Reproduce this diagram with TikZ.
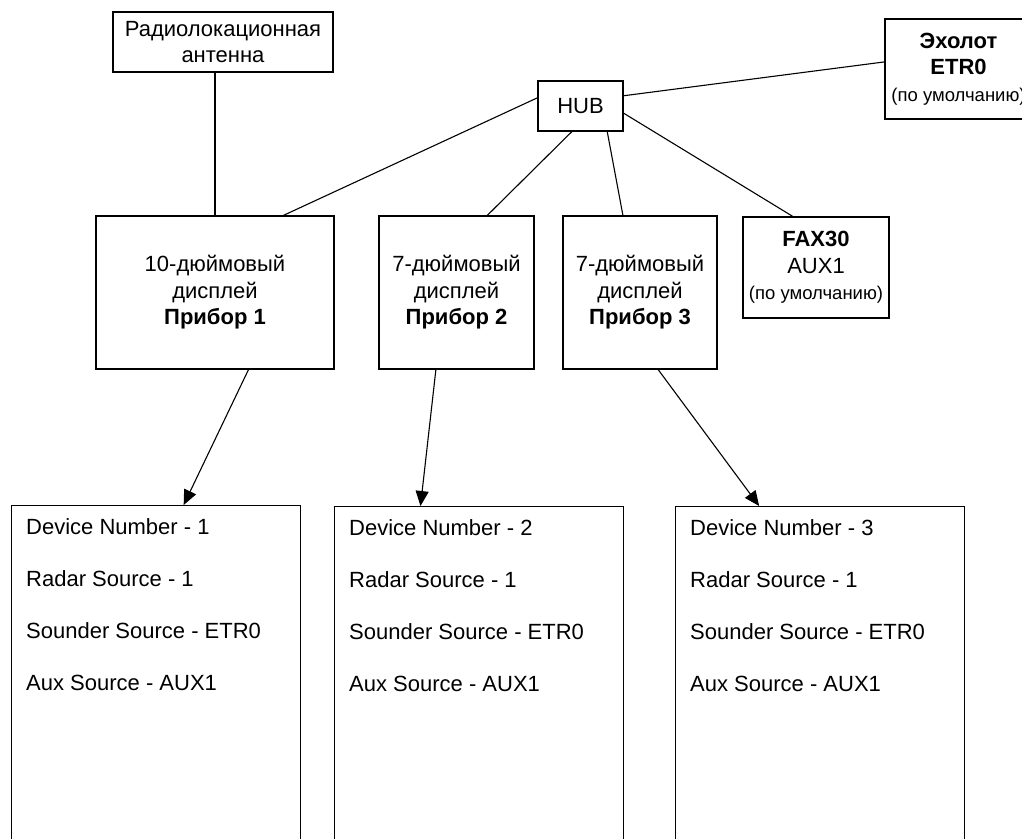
\documentclass[tikz,border=0pt]{standalone}
\usepackage{fontspec}
\setmainfont{Liberation Sans}
\usetikzlibrary{calc,arrows.meta}
\begin{document}
\begin{tikzpicture}[x=1pt,y=-1pt,
  box/.style={draw, line width=1.2pt, inner sep=0pt, align=center,
    font=\fontsize{22}{26.5}\selectfont},
  outbox/.style={draw, line width=1.2pt, inner sep=0pt, anchor=north west,
    minimum width=289pt, minimum height=365pt},
  link/.style={line width=1.1pt},
  arr/.style={line width=1.1pt, -{Triangle[length=15pt,width=13pt]}},
  txt/.style={anchor=base west, inner sep=0pt, font=\fontsize{22}{26}\selectfont}]
\useasboundingbox (0,0) rectangle (1022,838);
\clip (0,0) rectangle (1022,838);

% top row
\node[box, minimum width=220pt, minimum height=60pt] (radar) at (223,42)
  {Радиолокационная\\антенна};
\node[box, minimum width=85pt, minimum height=50pt] (hub) at (580.5,106) {HUB};
\node[box, minimum width=147pt, minimum height=100pt] (echo) at (958.5,69)
  {\textbf{Эхолот}\\\textbf{ETR0}\\{\fontsize{18.5}{26}\selectfont(по умолчанию)}};

% displays
\node[box, minimum width=238pt, minimum height=153pt] (d1) at (215,292.5)
  {10-дюймовый\\дисплей\\\textbf{Прибор 1}};
\node[box, minimum width=155pt, minimum height=153pt] (d2) at (456.5,292.5)
  {7-дюймовый\\дисплей\\\textbf{Прибор 2}};
\node[box, minimum width=154pt, minimum height=153pt] (d3) at (640,292.5)
  {7-дюймовый\\дисплей\\\textbf{Прибор 3}};
\node[box, minimum width=146pt, minimum height=101pt] (fax) at (816,267.5)
  {\textbf{FAX30}\\AUX1\\{\fontsize{18.5}{26}\selectfont(по умолчанию)}};

% settings boxes
\node[outbox] (b1) at (11,505) {};
\node[outbox] (b2) at (334,506) {};
\node[outbox] (b3) at (675,506) {};

\foreach \b/\n in {b1/1,b2/2,b3/3}{
  \node[txt] (\b l1) at ($(\b.north west)+(15,29)$) {Device Number - \n};
  \node[txt] (\b l2) at ($(\b.north west)+(15,81)$) {Radar Source - 1};
  \node[txt] (\b l3) at ($(\b.north west)+(15,133)$) {Sounder Source - ETR0};
  \node[txt] (\b l4) at ($(\b.north west)+(15,185)$) {Aux Source - AUX1};
}

% connections
\draw[link] (radar.south -| d1.north) -- (d1.north);
\draw[link] ($(hub.north west)!0.34!(hub.south west)$) -- ($(d1.north west)!0.786!(d1.north east)$);
\draw[link] ($(hub.south west)!0.4!(hub.south east)$) -- ($(d2.north west)!0.697!(d2.north east)$);
\draw[link] ($(hub.south west)!0.81!(hub.south east)$) -- ($(d3.north west)!0.39!(d3.north east)$);
\draw[link] ($(hub.north east)!0.64!(hub.south east)$) -- ($(fax.north west)!0.342!(fax.north east)$);
\draw[link] ($(hub.north east)!0.3!(hub.south east)$) -- ($(echo.north west)!0.43!(echo.south west)$);

\draw[arr] ($(d1.south west)!0.64!(d1.south east)$) -- ($(b1.north west)!0.595!(b1.north east)$);
\draw[arr] ($(d2.south west)!0.368!(d2.south east)$) -- ($(b2.north west)!0.298!(b2.north east)$);
\draw[arr] ($(d3.south west)!0.617!(d3.south east)$) -- ($(b3.north west)!0.29!(b3.north east)$);
\end{tikzpicture}
\end{document}
